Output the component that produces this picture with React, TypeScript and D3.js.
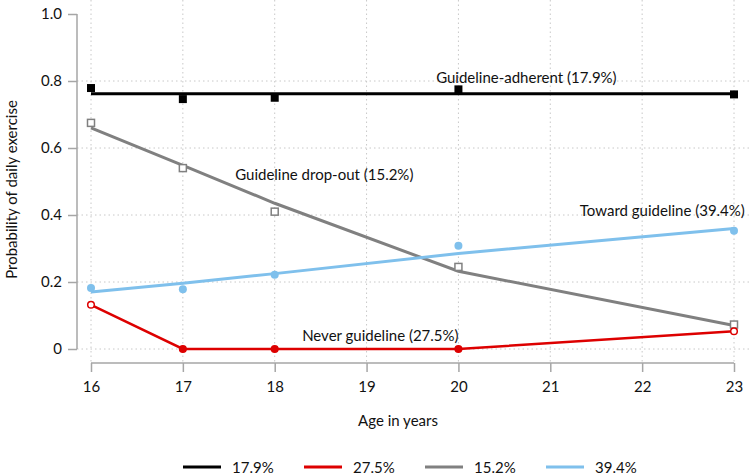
import * as d3 from 'd3';
import { useEffect, useRef } from 'react';

const ages = [16, 17, 18, 20, 23];

const seriesNames = ['17.9%', '27.5%', '15.2%', '39.4%'];
const seriesColours = ['#000000', '#dd0000', '#808080', '#7fc0ec'];

// fitted trajectories
const adherentFit = [0.762, 0.762, 0.762, 0.762, 0.762];
const neverFit = [0.132, 0, 0, 0, 0.053];
const dropoutFit = [0.66, 0.548, 0.435, 0.232, 0.07];
const towardFit = [0.17, 0.196, 0.225, 0.285, 0.36];

// observed proportions
const adherentObs = [0.779, 0.746, 0.75, 0.775, 0.76];
const neverObs = [0.132, 0, 0, 0, 0.053];
const dropoutObs = [0.675, 0.54, 0.41, 0.245, 0.073];
const towardObs = [0.182, 0.178, 0.222, 0.308, 0.353];

const labels = [
  { text: 'Guideline-adherent (17.9%)', age: 20.74, value: 0.794 },
  { text: 'Never guideline (27.5%)', age: 19.15, value: 0.024 },
  { text: 'Guideline drop-out (15.2%)', age: 18.54, value: 0.504 },
  { text: 'Toward guideline (39.4%)', age: 22.22, value: 0.397 },
];

const yTicks = [0, 0.2, 0.4, 0.6, 0.8, 1.0];
const xTicks = [16, 17, 18, 19, 20, 21, 22, 23];

const font = 'Lato, "Open Sans", sans-serif';

export default function App() {
  const ref = useRef<SVGSVGElement>(null);
  const width = 754;
  const height = 476;

  useEffect(() => {
    const svg = d3.select(ref.current);
    svg.selectAll('*').remove();

    const x = d3.scaleLinear([16, 23], [91, 734]);
    const y = d3.scaleLinear([0, 1], [349, 14]);
    const plotLeft = 77;
    const plotRight = 752;
    const plotTop = 0;
    const plotBottom = 363;

    const fits = [adherentFit, neverFit, dropoutFit, towardFit];
    const obs = [adherentObs, neverObs, dropoutObs, towardObs];

    // grid
    const grid = svg.append('g').attr('stroke', '#c8c8c8').attr('stroke-dasharray', '1.5,3');
    grid
      .selectAll('line.v')
      .data(xTicks)
      .join('line')
      .attr('class', 'v')
      .attr('x1', (d) => x(d))
      .attr('x2', (d) => x(d))
      .attr('y1', plotTop)
      .attr('y2', plotBottom);
    grid
      .selectAll('line.h')
      .data(yTicks.filter((d) => d < 1))
      .join('line')
      .attr('class', 'h')
      .attr('x1', plotLeft)
      .attr('x2', plotRight)
      .attr('y1', (d) => y(d))
      .attr('y2', (d) => y(d));

    // axes
    const yAxis = d3
      .axisLeft(y)
      .tickValues(yTicks)
      .tickSize(9)
      .tickPadding(6)
      .tickFormat((d) => (d === 0 ? '0' : d3.format('.1f')(d as number)));
    svg
      .append('g')
      .attr('transform', `translate(${plotLeft},0)`)
      .call(yAxis)
      .call((g) => g.select('.domain').attr('d', `M0,${y(1)}V${y(0)}`))
      .call((g) => g.selectAll('line, path').attr('stroke', '#a6a6a6').attr('stroke-width', 1.5))
      .call((g) => g.selectAll('text').attr('font-size', 15).attr('font-family', font).attr('fill', '#111'));

    const xAxis = d3.axisBottom(x).tickValues(xTicks).tickSize(9).tickPadding(9).tickFormat(d3.format('d'));
    svg
      .append('g')
      .attr('transform', `translate(0,${plotBottom})`)
      .call(xAxis)
      .call((g) => g.select('.domain').attr('d', `M${x(16)},0H${x(23)}`))
      .call((g) => g.selectAll('line, path').attr('stroke', '#a6a6a6').attr('stroke-width', 1.5))
      .call((g) => g.selectAll('text').attr('font-size', 15).attr('font-family', font).attr('fill', '#111'));

    // axis titles
    svg
      .append('text')
      .attr('transform', `translate(17,${(y(0) + y(1)) / 2 + 8}) rotate(-90)`)
      .attr('text-anchor', 'middle')
      .attr('font-family', font)
      .attr('font-size', 15)
      .attr('fill', '#111')
      .text('Probability of daily exercise');
    svg
      .append('text')
      .attr('x', 398)
      .attr('y', 426)
      .attr('text-anchor', 'middle')
      .attr('font-family', font)
      .attr('font-size', 15)
      .attr('fill', '#111')
      .text('Age in years');

    // fitted lines
    const line = d3
      .line<number>()
      .x((_, i) => x(ages[i]))
      .y((d) => y(d));
    fits.forEach((fit, i) =>
      svg
        .append('path')
        .attr('d', line(fit))
        .attr('fill', 'none')
        .attr('stroke', seriesColours[i])
        .attr('stroke-width', i === 1 ? 2.5 : 3)
    );

    // observed markers
    const m = svg.append('g');
    m.selectAll('rect.adh')
      .data(adherentObs)
      .join('rect')
      .attr('class', 'adh')
      .attr('x', (_, i) => x(ages[i]) - 4)
      .attr('y', (d) => y(d) - 4)
      .attr('width', 8)
      .attr('height', 8)
      .attr('fill', seriesColours[0]);
    m.selectAll('rect.drop')
      .data(dropoutObs)
      .join('rect')
      .attr('class', 'drop')
      .attr('x', (_, i) => x(ages[i]) - 3.5)
      .attr('y', (d) => y(d) - 3.5)
      .attr('width', 7)
      .attr('height', 7)
      .attr('fill', 'white')
      .attr('stroke', seriesColours[2])
      .attr('stroke-width', 1.5);
    m.selectAll('circle.tow')
      .data(towardObs)
      .join('circle')
      .attr('class', 'tow')
      .attr('cx', (_, i) => x(ages[i]))
      .attr('cy', (d) => y(d))
      .attr('r', 4)
      .attr('fill', seriesColours[3]);
    m.selectAll('circle.nev')
      .data(neverObs)
      .join('circle')
      .attr('class', 'nev')
      .attr('cx', (_, i) => x(ages[i]))
      .attr('cy', (d) => y(d))
      .attr('r', 3.3)
      .attr('fill', (d) => (d === 0 ? seriesColours[1] : 'white'))
      .attr('stroke', seriesColours[1])
      .attr('stroke-width', 1.5);

    // curve labels
    svg
      .append('g')
      .selectAll('text')
      .data(labels)
      .join('text')
      .attr('x', (d) => x(d.age))
      .attr('y', (d) => y(d.value))
      .attr('text-anchor', 'middle')
      .attr('font-family', font)
      .attr('font-size', 15)
      .attr('fill', '#111')
      .text((d) => d.text);

    // legend
    const legend = svg
      .append('g')
      .selectAll('g')
      .data(seriesNames)
      .join('g')
      .attr('transform', (_, i) => `translate(${183 + i * 121},467)`);
    legend
      .append('line')
      .attr('x1', 0)
      .attr('x2', 38)
      .attr('stroke', (_, i) => seriesColours[i])
      .attr('stroke-width', 3);
    legend
      .append('text')
      .attr('x', 49)
      .attr('y', 5.5)
      .attr('font-family', font)
      .attr('font-size', 15)
      .attr('fill', '#111')
      .text((d) => d);
  }, []);

  return (
    <svg
      ref={ref}
      width={width}
      height={height}
      style={{ position: 'absolute', left: 0, top: 0, background: 'white' }}
    ></svg>
  );
}
